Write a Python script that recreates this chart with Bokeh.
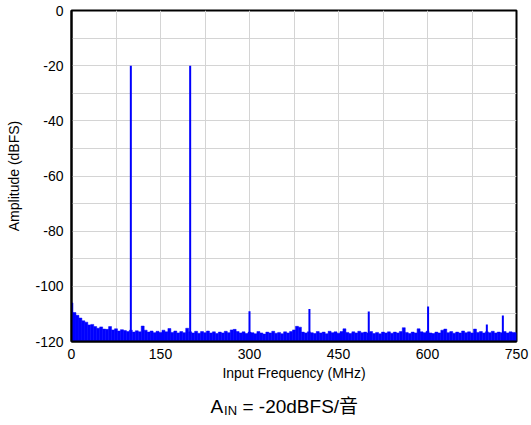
from bokeh.plotting import figure
from bokeh.models import Range1d, FixedTicker, Label, ColumnDataSource
from bokeh.layouts import column
from bokeh.embed import file_html
from bokeh.resources import INLINE

# ---- data ----
noise_freq = list(range(0, 755, 5))  # MHz
noise_db = [
    -106.0, -109.5, -110.5, -111.5, -112.5, -113.0, -114.0, -113.8, -114.6, -115.2,
    -114.7, -115.5, -115.6, -114.6, -115.8, -115.4, -116.2, -115.7, -116.0, -116.4,
    -115.9, -116.6, -116.1, -116.5, -114.4, -115.9, -116.6, -116.2, -116.8, -116.3,
    -116.7, -115.9, -116.5, -115.3, -116.7, -116.2, -116.9, -116.4, -116.8, -115.2,
    -116.5, -116.9, -116.3, -117.0, -116.4, -116.8, -116.2, -116.9, -116.5, -117.1,
    -116.6, -116.9, -116.3, -116.8, -115.8, -115.6, -116.4, -116.9, -116.5, -117.1,
    -116.6, -116.8, -117.2, -116.4, -116.9, -117.3, -116.6, -116.9, -116.3, -117.0,
    -116.7, -117.2, -116.5, -116.9, -116.4, -115.8, -114.5, -114.8, -116.6, -116.9,
    -116.5, -116.8, -117.1, -116.4, -116.9, -116.6, -117.2, -116.3, -116.8, -116.5,
    -117.0, -116.4, -115.4, -116.7, -117.1, -116.5, -116.9, -116.3, -116.8, -116.6,
    -116.9, -116.4, -117.1, -116.7, -117.2, -116.6, -116.9, -116.5, -117.0, -116.6,
    -116.9, -116.4, -115.0, -116.7, -117.1, -116.6, -116.9, -115.4, -116.5, -116.8,
    -116.3, -116.9, -117.1, -116.6, -116.9, -115.9, -115.5, -116.8, -116.4, -117.0,
    -116.6, -116.9, -116.2, -116.8, -116.5, -116.9, -115.5, -116.7, -116.4, -116.9,
    -116.5, -116.8, -116.3, -116.9, -116.6, -116.8, -116.4, -116.9, -116.5, -116.7,
    -116.8,
]
spike_freq = [100, 200, 300, 401, 501, 601, 700, 727]
spike_db = [-20.0, -20.0, -109.0, -108.2, -109.1, -107.3, -113.8, -110.6]
floor_db = -120

x_ticks = [0, 150, 300, 450, 600, 750]
x_minor = [75, 225, 375, 525, 675]
y_ticks = [-120, -100, -80, -60, -40, -20, 0]
y_tick_labels = ["-120", "-100", "-80", "-60", "-40", "-20", "0"]
y_minor = [-110, -90, -70, -50, -30, -10]

FONT = "Liberation Sans, Arial, Helvetica, sans-serif"
BLUE = "#0000ff"
GRID = "#d4d4d4"

p = figure(width=531, height=384, output_backend="svg", toolbar_location=None,
           x_range=Range1d(0, 750), y_range=Range1d(-120, 0),
           min_border_left=71, min_border_right=15, min_border_top=10,
           min_border_bottom=43)
p.background_fill_color = "white"
p.border_fill_color = "white"
p.outline_line_color = "black"
p.outline_line_width = 2

# axes
p.xaxis.ticker = FixedTicker(ticks=x_ticks, minor_ticks=x_minor)
p.yaxis.ticker = FixedTicker(ticks=y_ticks, minor_ticks=y_minor)
p.yaxis.major_label_overrides = {t: s for t, s in zip(y_ticks, y_tick_labels)}
for ax in (p.xaxis[0], p.yaxis[0]):
    ax.axis_line_color = "black"
    ax.axis_line_width = 2
    ax.major_tick_out = 0
    ax.major_tick_in = 0
    ax.minor_tick_out = 0
    ax.minor_tick_in = 0
    ax.major_label_text_font = FONT
    ax.major_label_text_font_size = "14px"
    ax.major_label_text_color = "black"
    ax.axis_label_text_font = FONT
    ax.axis_label_text_font_size = "14px"
    ax.axis_label_text_font_style = "normal"
    ax.axis_label_text_color = "black"
p.xaxis.axis_label = "Input Frequency (MHz)"
p.yaxis.axis_label = "Amplitude (dBFS)"
p.xaxis.major_label_standoff = 7
p.xaxis.axis_label_standoff = 3
p.yaxis.major_label_standoff = 8
p.yaxis.axis_label_standoff = 10

for g in (p.xgrid[0], p.ygrid[0]):
    g.grid_line_color = GRID
    g.grid_line_width = 1
    g.minor_grid_line_color = GRID
    g.minor_grid_line_width = 1

# noise floor
src = ColumnDataSource(dict(f=noise_freq, top=noise_db, bottom=[floor_db] * len(noise_freq)))
p.vbar(x="f", top="top", bottom="bottom", width=5, source=src,
       fill_color=BLUE, line_color=BLUE, line_width=0.5)

# spikes
p.segment(x0=spike_freq, y0=[floor_db] * len(spike_freq), x1=spike_freq, y1=spike_db,
          line_color=BLUE, line_width=2)

# caption strip below the chart
cap = figure(width=531, height=41, output_backend="svg", toolbar_location=None,
             x_range=Range1d(0, 531), y_range=Range1d(0, 41),
             x_axis_location=None, y_axis_location=None,
             min_border=0, min_border_left=0, min_border_right=0,
             min_border_top=0, min_border_bottom=0)
cap.grid.visible = False
cap.outline_line_color = None
cap.background_fill_color = "white"
cap.border_fill_color = "white"

cap_font = "Liberation Sans, Arial, Noto Sans CJK SC, sans-serif"
cap.add_layout(Label(x=166, y=19, text="A", text_font=cap_font,
                     text_font_size="19px", text_color="black",
                     text_baseline="alphabetic"))
cap.add_layout(Label(x=182, y=15, text="IN", text_font=cap_font,
                     text_font_size="13px", text_color="black",
                     text_baseline="alphabetic"))
cap.add_layout(Label(x=204, y=19, text="= -20dBFS/音", text_font=cap_font,
                     text_font_size="19px", text_color="black",
                     text_baseline="alphabetic"))

layout = column(p, cap, spacing=0)
open("out.html", "w").write(file_html(layout, INLINE))
